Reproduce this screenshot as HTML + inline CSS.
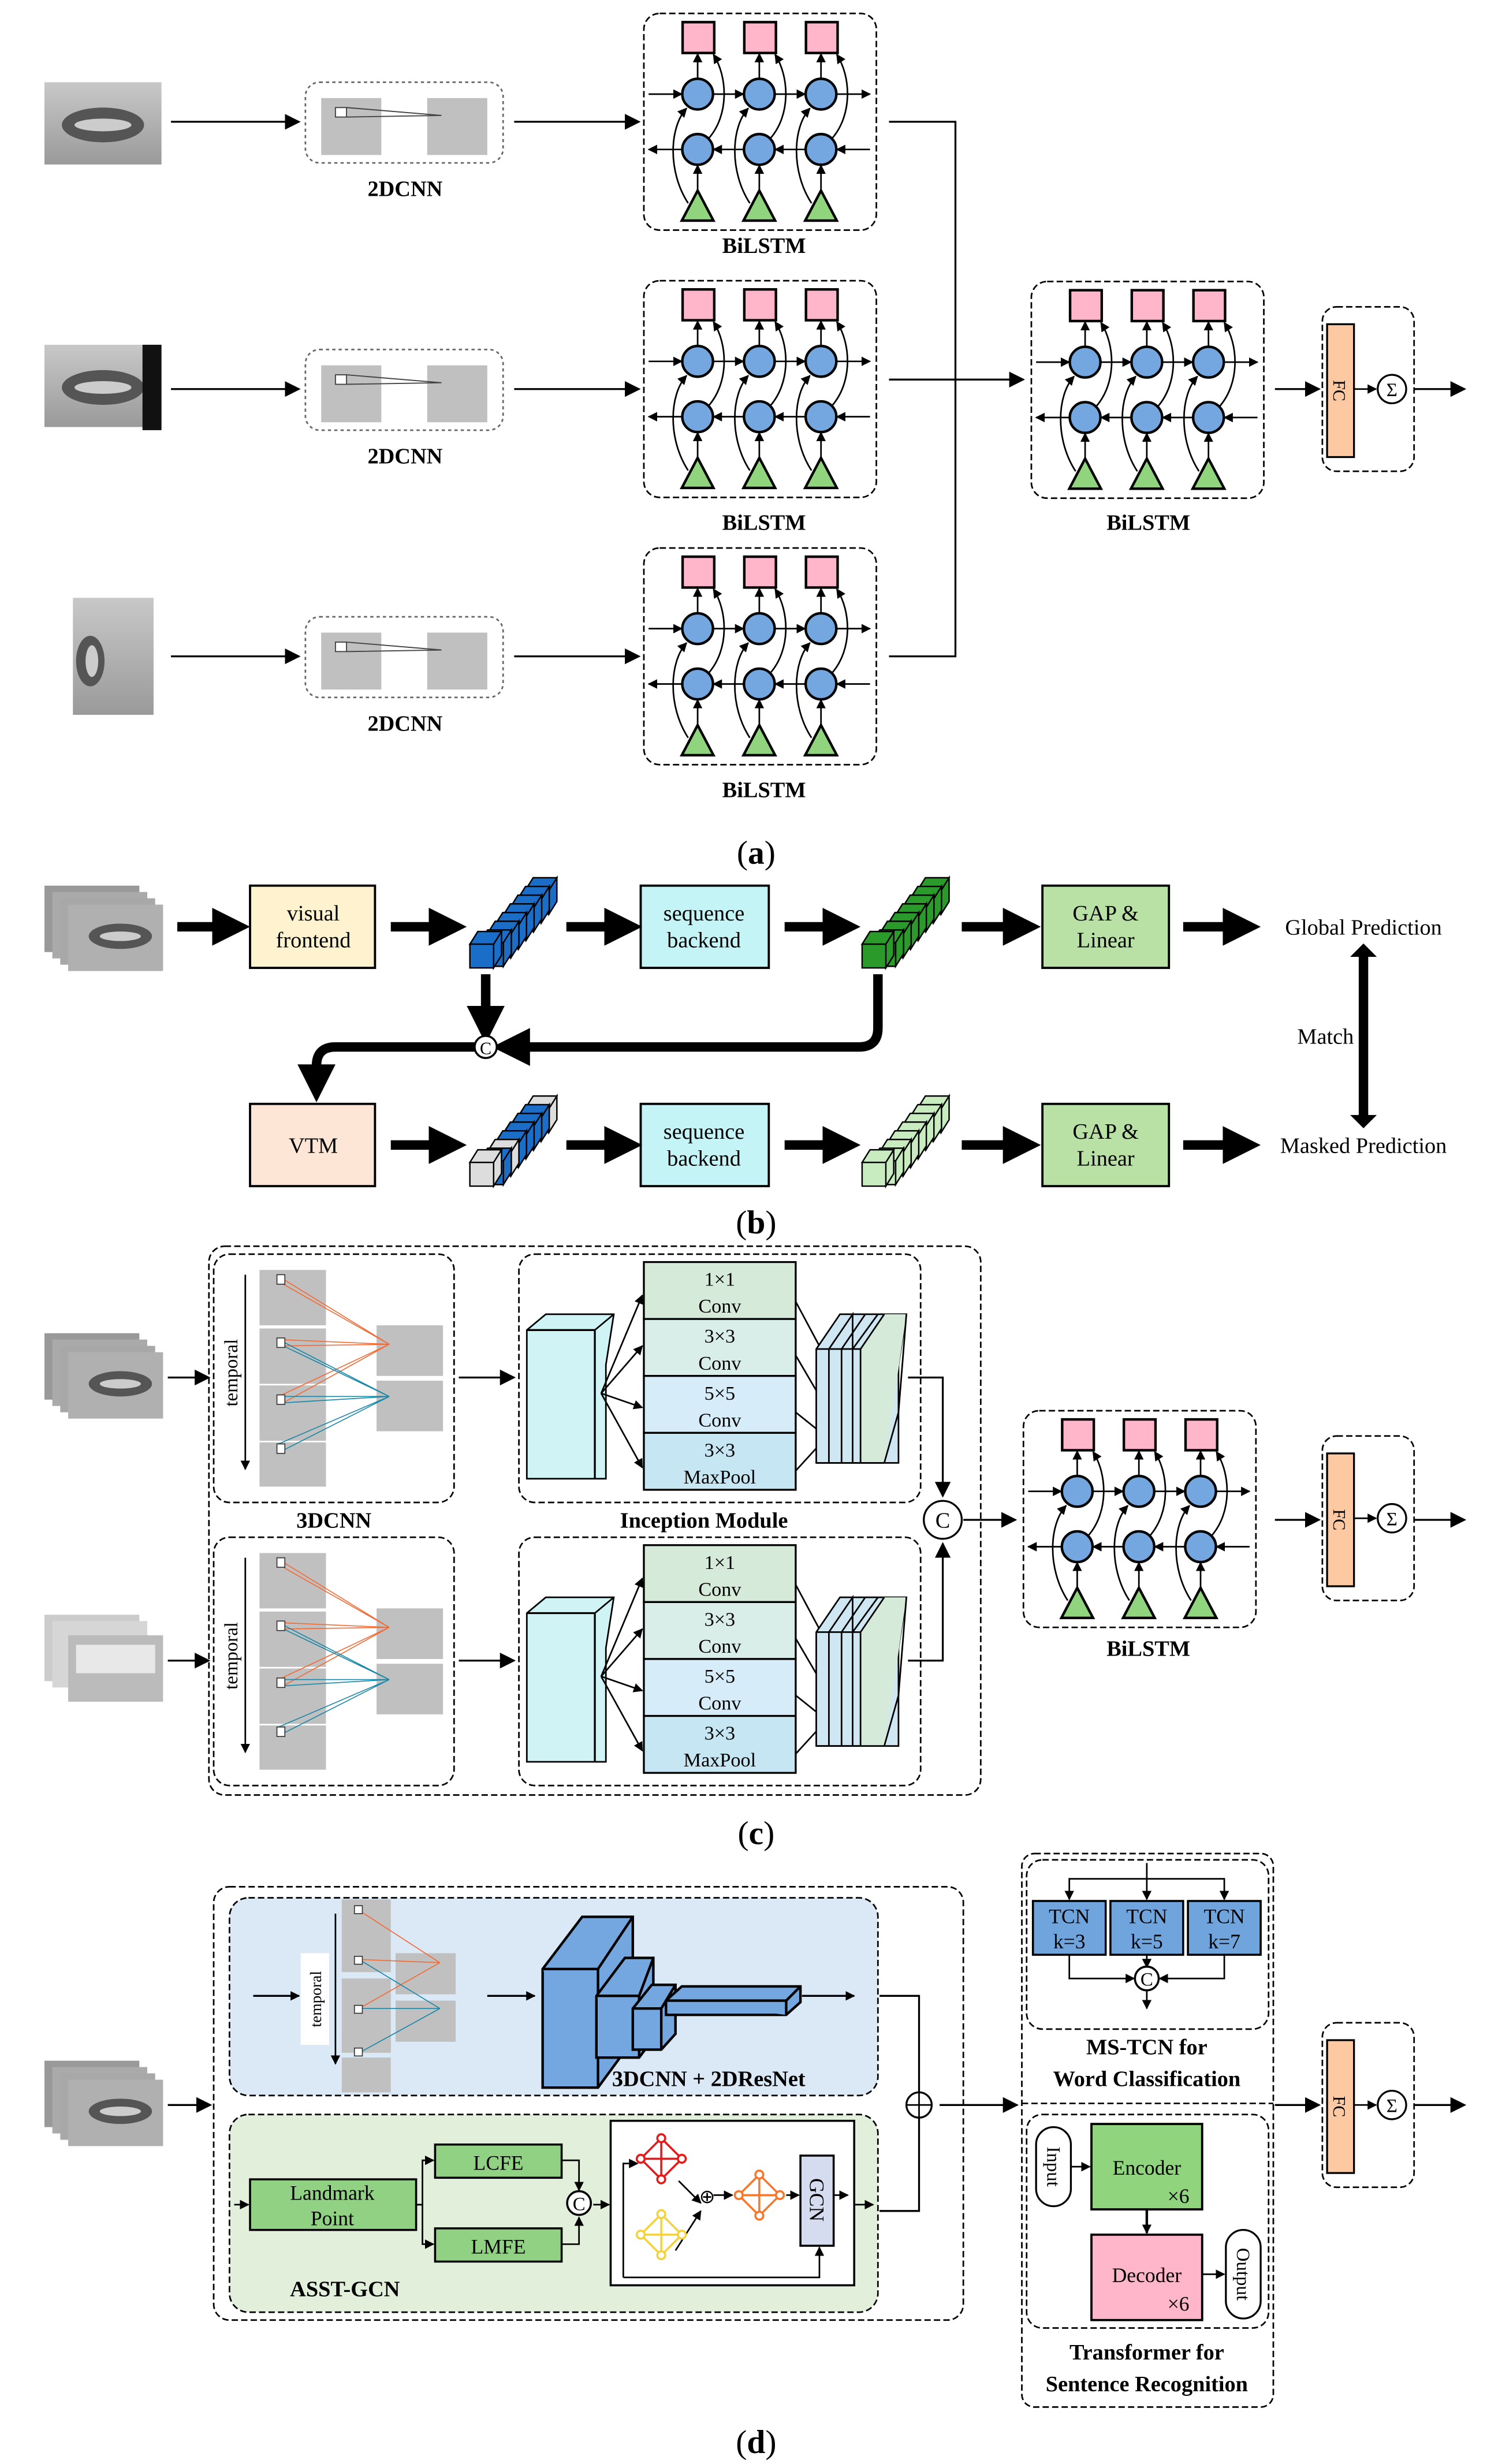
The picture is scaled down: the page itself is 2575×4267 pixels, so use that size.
<!DOCTYPE html>
<html><head><meta charset="utf-8"><style>html,body{margin:0;padding:0;background:#fff}svg{display:block}text{font-family:"Liberation Serif",serif}</style></head><body>
<svg width="2575" height="4267" viewBox="0 0 940 1558" xmlns="http://www.w3.org/2000/svg">
<defs>
<marker id="a" viewBox="0 0 10 10" refX="9" refY="5" markerWidth="6" markerHeight="6" markerUnits="userSpaceOnUse" orient="auto"><path d="M0,0L10,5L0,10z"/></marker>
<marker id="A" viewBox="0 0 10 10" refX="9" refY="5" markerWidth="10" markerHeight="10" markerUnits="userSpaceOnUse" orient="auto"><path d="M0,0L10,5L0,10z"/></marker>
<marker id="T" viewBox="0 0 10 10" refX="5" refY="5" markerWidth="4" markerHeight="4" orient="auto"><path d="M0,0L10,5L0,10z"/></marker>
<linearGradient id="mg" x1="0" y1="0" x2="0" y2="1"><stop offset="0" stop-color="#c8c8c8"/><stop offset="1" stop-color="#9a9a9a"/></linearGradient>
<g id="bl" stroke="#000">
 <rect x="0" y="0" width="147" height="137" rx="10" fill="#fff" stroke-dasharray="4,2" stroke-width="1"/>
 <g stroke-width="1" fill="none" marker-end="url(#a)">
  <line x1="3" y1="51" x2="24" y2="51"/><line x1="44" y1="51" x2="63" y2="51"/><line x1="83" y1="51" x2="102" y2="51"/><line x1="122" y1="51" x2="143" y2="51"/>
  <line x1="143" y1="86" x2="122" y2="86"/><line x1="102" y1="86" x2="83" y2="86"/><line x1="63" y1="86" x2="44" y2="86"/><line x1="24" y1="86" x2="3" y2="86"/>
  <line x1="34" y1="41" x2="34" y2="25.5"/><line x1="73" y1="41" x2="73" y2="25.5"/><line x1="112" y1="41" x2="112" y2="25.5"/>
  <line x1="34" y1="112" x2="34" y2="96"/><line x1="73" y1="112" x2="73" y2="96"/><line x1="112" y1="112" x2="112" y2="96"/>
  <path d="M28,120C15,100 16,72 27,60"/><path d="M67,120C54,100 55,72 66,60"/><path d="M106,120C93,100 94,72 105,60"/>
  <path d="M41,79C54,64 53,40 44,26"/><path d="M80,79C93,64 92,40 83,26"/><path d="M119,79C132,64 131,40 122,26"/>
 </g>
 <g stroke-width="1.6">
  <rect x="24.5" y="5.5" width="20" height="19.5" fill="#ffb6cb"/><rect x="63.5" y="5.5" width="20" height="19.5" fill="#ffb6cb"/><rect x="102.5" y="5.5" width="20" height="19.5" fill="#ffb6cb"/>
  <circle cx="34" cy="51" r="9.7" fill="#74a7e0"/><circle cx="73" cy="51" r="9.7" fill="#74a7e0"/><circle cx="112" cy="51" r="9.7" fill="#74a7e0"/>
  <circle cx="34" cy="86" r="9.7" fill="#74a7e0"/><circle cx="73" cy="86" r="9.7" fill="#74a7e0"/><circle cx="112" cy="86" r="9.7" fill="#74a7e0"/>
  <path d="M34,112L44,131H24z" fill="#90d47e"/><path d="M73,112L83,131H63z" fill="#90d47e"/><path d="M112,112L122,131H102z" fill="#90d47e"/>
 </g>
</g>
<g id="cnn">
 <rect x="0" y="0" width="125" height="51" rx="9" fill="#fff" stroke="#666" stroke-dasharray="2,2"/>
 <rect x="10" y="10" width="38" height="36" fill="#c0c0c0"/><rect x="77" y="10" width="38" height="36" fill="#c0c0c0"/>
 <rect x="19" y="16" width="7" height="6" fill="#fff" stroke="#444" stroke-width="0.7"/>
 <path d="M26,16L86,21L26,22" fill="none" stroke="#444" stroke-width="0.7"/>
</g>
<g id="mouth">
 <rect x="0" y="0" width="74" height="52" fill="url(#mg)"/>
 <ellipse cx="37" cy="27" rx="26" ry="11" fill="#555"/>
 <ellipse cx="37" cy="27" rx="18" ry="4" fill="#ccc"/>
</g>
<g id="mstack">
 <rect x="0" y="0" width="60" height="42" fill="#999"/><rect x="5" y="4" width="60" height="42" fill="#aaa"/><rect x="10" y="8" width="60" height="42" fill="#a8a8a8"/>
 <rect x="15" y="12" width="60" height="42" fill="#b0b0b0"/>
 <ellipse cx="48" cy="32" rx="20" ry="8" fill="#555"/><ellipse cx="48" cy="32" rx="13" ry="3" fill="#ccc"/>
</g>
<g id="fc">
 <rect x="0" y="0" width="58" height="104" rx="9" fill="#fff" stroke="#000" stroke-dasharray="4,2"/>
 <rect x="3" y="11" width="17" height="84" fill="#fcc9a3" stroke="#000" stroke-width="1.2"/>
 <text transform="translate(7,53) rotate(90)" font-size="11" text-anchor="middle">FC</text>
 <line x1="20" y1="52" x2="34" y2="52" stroke="#000" marker-end="url(#a)"/>
 <circle cx="44" cy="52" r="9" fill="#fff" stroke="#000" stroke-width="1.2"/>
 <text x="44" y="56.5" font-size="12" text-anchor="middle">Σ</text>
</g>
<g id="c3d">
 <rect x="0" y="0" width="152" height="157" rx="10" fill="#fff" stroke="#000" stroke-dasharray="4,2"/>
 <rect x="29" y="10" width="42" height="35" fill="#c0c0c0"/><rect x="29" y="47" width="42" height="35" fill="#c0c0c0"/>
 <rect x="29" y="83" width="42" height="35" fill="#c0c0c0"/><rect x="29" y="119" width="42" height="28" fill="#c0c0c0"/>
 <rect x="103" y="45" width="42" height="32" fill="#c0c0c0"/><rect x="103" y="80" width="42" height="32" fill="#c0c0c0"/>
 <g stroke="#f26a35" stroke-width="0.6" fill="none"><path d="M41,14L111,57M44,19L111,57M41,54L111,57M44,58L111,57M41,90L111,57M44,94L111,57"/></g>
 <g stroke="#1987a8" stroke-width="0.6" fill="none"><path d="M41,54L111,90M44,58L111,90M41,90L111,90M44,94L111,90M41,120L111,90M44,124L111,90"/></g>
 <g fill="#fff" stroke="#333" stroke-width="0.6"><rect x="40" y="13" width="5" height="6"/><rect x="40" y="53" width="5" height="6"/><rect x="40" y="89" width="5" height="6"/><rect x="40" y="120" width="5" height="6"/></g>
 <line x1="20" y1="13" x2="20" y2="136" stroke="#000" marker-end="url(#a)"/>
 <text transform="translate(15,75) rotate(-90)" font-size="12" text-anchor="middle">temporal</text>
</g>
<g id="inc">
 <rect x="0" y="0" width="254" height="157" rx="10" fill="#fff" stroke="#000" stroke-dasharray="4,2"/>
 <path d="M5,48L17,38H60L55,70V142H5z" fill="#d0f3f6" stroke="#000"/>
 <path d="M5,48H48V142" fill="none" stroke="#000" stroke-width="1.2"/><path d="M48,48L60,38" stroke="#000"/>
 <g stroke="#000" stroke-width="1.2">
 <rect x="79" y="5" width="96" height="36" fill="#d5ead8"/><rect x="79" y="41" width="96" height="36" fill="#daeee9"/>
 <rect x="79" y="77" width="96" height="36" fill="#d7ecf9"/><rect x="79" y="113" width="96" height="36" fill="#c5e6f2"/>
 </g>
 <g font-size="12.5" text-anchor="middle"><text x="127" y="20">1×1</text><text x="127" y="37">Conv</text><text x="127" y="56">3×3</text><text x="127" y="73">Conv</text><text x="127" y="92">5×5</text><text x="127" y="109">Conv</text><text x="127" y="128">3×3</text><text x="127" y="145">MaxPool</text></g>
 <g stroke="#000" fill="none" marker-end="url(#a)"><path d="M52,88L78,26"/><path d="M52,88L78,58"/><path d="M52,88L78,97"/><path d="M52,88L78,135"/><path d="M175,30L214,103"/><path d="M175,64L206,117"/><path d="M175,100L200,120"/><path d="M175,137L196,114"/></g>
 <path d="M188,60L203,38H245L240,70V132H188z" fill="#cfe6f3" stroke="#000"/>
 <path d="M216,132V60L231,38H245L236,100L231,132z" fill="#d5ead8" stroke="none"/>
 <g stroke="#000" fill="none"><path d="M188,60H216V132"/><path d="M196,60L211,38V60M204,60L219,38M211,60L227,38M216,60L231,38"/><path d="M196,60V132M204,60V132M211,60V132"/><path d="M245,38L240,100L231,132"/><path d="M188,132H231"/></g>
</g>
<g id="cube1"><path d="M0,0h15v15h-15z M0,0l5,-8h15l-5,8z M15,0l5,-8v15l-5,8z"/></g>
</defs>
<rect width="940" height="1558" fill="#fff"/>

<!-- ===== (a) ===== -->
<use href="#mouth" x="28" y="52"/>
<use href="#mouth" x="28" y="218"/>
<g><rect x="46" y="378" width="51" height="74" fill="url(#mg)"/><ellipse cx="57" cy="418" rx="9" ry="16" fill="#555"/><ellipse cx="58" cy="418" rx="4" ry="10" fill="#ccc"/></g>
<rect x="90" y="218" width="12" height="54" fill="#111"/>
<use href="#cnn" x="193" y="52"/><use href="#cnn" x="193" y="221"/><use href="#cnn" x="193" y="390"/>
<g font-size="14" font-weight="bold" text-anchor="middle"><text x="256" y="124">2DCNN</text><text x="256" y="293">2DCNN</text><text x="256" y="462">2DCNN</text></g>
<g stroke="#000" stroke-width="1.2" marker-end="url(#A)">
<line x1="108" y1="77" x2="189" y2="77"/><line x1="108" y1="246" x2="189" y2="246"/><line x1="108" y1="415" x2="189" y2="415"/>
<line x1="325" y1="77" x2="404" y2="77"/><line x1="325" y1="246" x2="404" y2="246"/><line x1="325" y1="415" x2="404" y2="415"/>
<line x1="562" y1="240" x2="647" y2="240"/>
<line x1="806" y1="246" x2="834" y2="246"/><line x1="894" y1="246" x2="926" y2="246"/>
</g>
<path d="M562,77H604V415H562" fill="none" stroke="#000" stroke-width="1.2"/>
<use href="#bl" x="407" y="8.5"/><use href="#bl" x="407" y="177.5"/><use href="#bl" x="407" y="346.5"/><use href="#bl" x="652" y="178"/>
<g font-size="14" font-weight="bold" text-anchor="middle"><text x="483" y="160">BiLSTM</text><text x="483" y="335">BiLSTM</text><text x="483" y="504">BiLSTM</text><text x="726" y="335">BiLSTM</text></g>
<use href="#fc" x="836" y="194"/>
<text x="478" y="546" font-size="21" text-anchor="middle">(<tspan font-weight="bold">a</tspan>)</text>

<!-- ===== (b) ===== -->
<use href="#mstack" x="28" y="560"/>
<g stroke="#000" stroke-width="1.4">
<rect x="158" y="560" width="79" height="52" fill="#fff3cf"/><rect x="405" y="560" width="81" height="52" fill="#c5f4f7"/><rect x="659" y="560" width="80" height="52" fill="#b9e1a5"/>
<rect x="158" y="698" width="79" height="52" fill="#fde6d6"/><rect x="405" y="698" width="81" height="52" fill="#c5f4f7"/><rect x="659" y="698" width="80" height="52" fill="#b9e1a5"/>
</g>
<g font-size="14" text-anchor="middle"><text x="198" y="582">visual</text><text x="198" y="599">frontend</text>
<text x="445" y="582">sequence</text><text x="445" y="599">backend</text><text x="699" y="582">GAP &amp;</text><text x="699" y="599">Linear</text>
<text x="198" y="729">VTM</text><text x="445" y="720">sequence</text><text x="445" y="737">backend</text><text x="699" y="720">GAP &amp;</text><text x="699" y="737">Linear</text>
<text x="862" y="591">Global Prediction</text><text x="862" y="729">Masked Prediction</text><text x="838" y="660">Match</text></g>
<g stroke="#000" stroke-width="6" marker-end="url(#T)">
<line x1="112" y1="586" x2="146" y2="586"/><line x1="247" y1="586" x2="283" y2="586"/><line x1="358" y1="586" x2="394" y2="586"/><line x1="496" y1="586" x2="532" y2="586"/><line x1="608" y1="586" x2="646" y2="586"/><line x1="748" y1="586" x2="785" y2="586"/>
<line x1="247" y1="724" x2="283" y2="724"/><line x1="358" y1="724" x2="394" y2="724"/><line x1="496" y1="724" x2="532" y2="724"/><line x1="608" y1="724" x2="646" y2="724"/><line x1="748" y1="724" x2="785" y2="724"/>
<line x1="307" y1="616" x2="307" y2="648"/>
<path d="M555,616V650Q555,662 543,662H323" fill="none"/>
<path d="M300,662H212Q200,662 200,674V685" fill="none"/>
</g>
<g stroke="#000" stroke-width="6"><line x1="862" y1="604" x2="862" y2="706"/></g>
<path d="M856,604L862,598L868,604z M856,706L862,712L868,706z" stroke="#000" stroke-width="2"/>
<circle cx="307" cy="662" r="7" fill="#fff" stroke="#000" stroke-width="1.3"/><text x="307" y="666.5" font-size="11" text-anchor="middle">C</text>
<g stroke="#000" stroke-width="0.9">
<g fill="#1a6ec8"><use href="#cube1" x="332" y="563"/><use href="#cube1" x="327.2" y="568.5"/><use href="#cube1" x="322.4" y="574"/><use href="#cube1" x="317.6" y="579.5"/><use href="#cube1" x="312.8" y="585"/><use href="#cube1" x="308" y="590.5"/><use href="#cube1" x="303.2" y="596"/><use href="#cube1" x="297" y="597"/></g>
<g fill="#2a9a2a"><use href="#cube1" x="580" y="563"/><use href="#cube1" x="575.2" y="568.5"/><use href="#cube1" x="570.4" y="574"/><use href="#cube1" x="565.6" y="579.5"/><use href="#cube1" x="560.8" y="585"/><use href="#cube1" x="556" y="590.5"/><use href="#cube1" x="551.2" y="596"/><use href="#cube1" x="545" y="597"/></g>
<g><use href="#cube1" x="332" y="701" fill="#ddd"/><use href="#cube1" x="327.2" y="706.5" fill="#1a6ec8"/><use href="#cube1" x="322.4" y="712" fill="#1a6ec8"/><use href="#cube1" x="317.6" y="717.5" fill="#1a6ec8"/><use href="#cube1" x="312.8" y="723" fill="#1a6ec8"/><use href="#cube1" x="308" y="728.5" fill="#ddd"/><use href="#cube1" x="303.2" y="734" fill="#1a6ec8"/><use href="#cube1" x="297" y="735" fill="#ddd"/></g>
<g fill="#c8ecc0"><use href="#cube1" x="580" y="701"/><use href="#cube1" x="575.2" y="706.5"/><use href="#cube1" x="570.4" y="712"/><use href="#cube1" x="565.6" y="717.5"/><use href="#cube1" x="560.8" y="723"/><use href="#cube1" x="556" y="728.5"/><use href="#cube1" x="551.2" y="734"/><use href="#cube1" x="545" y="735"/></g>
</g>
<text x="478" y="780" font-size="21" text-anchor="middle">(<tspan font-weight="bold">b</tspan>)</text>

<!-- ===== (c) ===== -->
<rect x="132" y="788" width="488" height="347" rx="10" fill="none" stroke="#000" stroke-dasharray="4,2"/>
<use href="#mstack" x="28" y="843"/>
<g><rect x="28" y="1021" width="60" height="42" fill="#ccc"/><rect x="33" y="1025" width="60" height="42" fill="#d6d6d6"/><rect x="43" y="1034" width="60" height="42" fill="#bbb"/><rect x="48" y="1040" width="50" height="18" fill="#e8e8e8"/></g>
<use href="#c3d" x="135" y="793"/><use href="#c3d" x="135" y="972"/>
<use href="#inc" x="328" y="793"/><use href="#inc" x="328" y="972"/>
<g font-size="14" font-weight="bold" text-anchor="middle"><text x="211" y="966">3DCNN</text><text x="445" y="966">Inception Module</text><text x="726" y="1047">BiLSTM</text></g>
<g stroke="#000" stroke-width="1.2" fill="none" marker-end="url(#A)">
<line x1="106" y1="871" x2="132" y2="871"/><line x1="106" y1="1050" x2="132" y2="1050"/>
<line x1="290" y1="871" x2="325" y2="871"/><line x1="290" y1="1050" x2="325" y2="1050"/>
<path d="M574,871H596V946"/><path d="M574,1050H596V976"/>
<line x1="609" y1="961" x2="642" y2="961"/>
<line x1="806" y1="961" x2="834" y2="961"/><line x1="894" y1="961" x2="926" y2="961"/>
</g>
<circle cx="596" cy="961" r="12" fill="#fff" stroke="#000" stroke-width="1.2"/><text x="596" y="966" font-size="14" text-anchor="middle">C</text>
<use href="#bl" x="647" y="892"/>
<use href="#fc" x="836" y="908"/>
<text x="478" y="1166" font-size="21" text-anchor="middle">(<tspan font-weight="bold">c</tspan>)</text>

<!-- ===== (d) ===== -->
<rect x="135" y="1193" width="474" height="274" rx="10" fill="none" stroke="#000" stroke-dasharray="4,2"/>
<rect x="145" y="1200" width="410" height="125" rx="12" fill="#dae9f5" stroke="#000" stroke-dasharray="4,2"/>
<rect x="145" y="1337" width="410" height="125" rx="12" fill="#e1efdb" stroke="#000" stroke-dasharray="4,2"/>
<use href="#mstack" x="28" y="1303"/>
<g stroke="#000" stroke-width="1.2" fill="none" marker-end="url(#A)"><line x1="106" y1="1331" x2="133" y2="1331"/><line x1="594" y1="1331" x2="643" y2="1331"/><line x1="806" y1="1331" x2="834" y2="1331"/><line x1="894" y1="1331" x2="926" y2="1331"/></g>
<rect x="190" y="1235" width="18" height="58" fill="#fff"/>
<text transform="translate(203,1264) rotate(-90)" font-size="10" text-anchor="middle">temporal</text>
<line x1="212" y1="1210" x2="212" y2="1305" stroke="#000" marker-end="url(#a)"/>
<rect x="216" y="1201" width="31" height="46" fill="#c0c0c0"/><rect x="216" y="1251" width="31" height="46" fill="#c0c0c0"/><rect x="216" y="1301" width="31" height="22" fill="#c0c0c0"/><rect x="216" y="1286" width="31" height="12" fill="#c0c0c0"/>
<rect x="250" y="1235" width="38" height="26" fill="#c0c0c0"/><rect x="250" y="1265" width="38" height="26" fill="#c0c0c0"/>
<g stroke="#f26a35" stroke-width="0.6" fill="none"><path d="M227,1208L278,1241M227,1239L278,1241M227,1270L278,1241"/></g>
<g stroke="#1987a8" stroke-width="0.6" fill="none"><path d="M227,1239L278,1270M227,1270L278,1270M227,1298L278,1270"/></g>
<g fill="#fff" stroke="#333" stroke-width="0.6"><rect x="224" y="1205" width="5" height="5"/><rect x="224" y="1237" width="5" height="5"/><rect x="224" y="1268" width="5" height="5"/><rect x="224" y="1295" width="5" height="5"/></g>
<g stroke="#000" stroke-width="1.2" fill="none" marker-end="url(#a)"><line x1="160" y1="1262" x2="189" y2="1262"/><line x1="308" y1="1262" x2="338" y2="1262"/><line x1="507" y1="1262" x2="540" y2="1262"/></g>
<g stroke="#000" stroke-width="1.6" fill="#74a7e0">
<path d="M343,1245L368,1212H400V1290L378,1320H343z"/><path d="M343,1245H378V1320M378,1245L400,1212"/>
<path d="M377,1262L395,1238H413V1289L404,1301H377z"/><path d="M377,1262H404V1301M404,1262L413,1238"/>
<path d="M400,1270L412,1255H427V1286L418,1296H400z"/><path d="M400,1270H418V1296M418,1270L427,1255"/>
<path d="M421,1265L431,1256H506V1266L497,1274H421z"/><path d="M421,1265H497V1274M497,1265L506,1256"/>
</g>
<text x="448" y="1319" font-size="14" font-weight="bold" text-anchor="middle">3DCNN + 2DResNet</text>
<g stroke="#000" stroke-width="1.3">
<rect x="158" y="1378" width="105" height="32" fill="#90d184"/><rect x="275" y="1356" width="80" height="21" fill="#90d184"/><rect x="275" y="1409" width="80" height="21" fill="#90d184"/>
<rect x="386" y="1341" width="154" height="104" fill="#fff"/><rect x="506" y="1363" width="21" height="57" fill="#d6dcf0"/>
</g>
<g font-size="13" text-anchor="middle"><text x="210" y="1391">Landmark</text><text x="210" y="1407">Point</text><text x="315" y="1372">LCFE</text><text x="315" y="1425">LMFE</text></g>
<text transform="translate(512,1391) rotate(90)" font-size="13" text-anchor="middle">GCN</text>
<g stroke="#000" fill="none" marker-end="url(#a)"><line x1="148" y1="1394" x2="157" y2="1394"/><path d="M263,1394H267V1366H274"/><path d="M263,1394H267V1419H274"/><path d="M355,1366H366V1385"/><path d="M355,1419H366V1402"/><line x1="375" y1="1394" x2="385" y2="1394"/><path d="M394,1440V1368H403"/><path d="M394,1440H518V1421"/><path d="M429,1379L443,1393"/><path d="M427,1423L443,1398"/><line x1="451" y1="1388" x2="463" y2="1388"/><line x1="497" y1="1388" x2="505" y2="1388"/><line x1="527" y1="1388" x2="536" y2="1388"/><line x1="540" y1="1394" x2="552" y2="1394"/></g>
<circle cx="366" cy="1393" r="7.5" fill="#fff" stroke="#000" stroke-width="1.3"/><text x="366" y="1397.5" font-size="12" text-anchor="middle">C</text>
<text x="447" y="1393" font-size="12" text-anchor="middle">⊕</text>
<g fill="none" stroke-width="1.3">
<g stroke="#e81818"><path d="M418,1352L431,1365L418,1378L405,1365Z M418,1352V1378 M405,1365H431"/><circle cx="418" cy="1352" r="2.5" fill="#fff"/><circle cx="431" cy="1365" r="2.5" fill="#fff"/><circle cx="418" cy="1378" r="2.5" fill="#fff"/><circle cx="405" cy="1365" r="2.5" fill="#fff"/></g>
<g stroke="#f5d23c"><path d="M418,1400L431,1413L418,1426L405,1413Z M418,1400V1426 M405,1413H431"/><circle cx="418" cy="1400" r="2.5" fill="#fff"/><circle cx="431" cy="1413" r="2.5" fill="#fff"/><circle cx="418" cy="1426" r="2.5" fill="#fff"/><circle cx="405" cy="1413" r="2.5" fill="#fff"/></g>
<g stroke="#f7782c"><path d="M480,1375L493,1388L480,1401L467,1388Z M480,1375V1401 M467,1388H493"/><circle cx="480" cy="1375" r="2.5" fill="#fff"/><circle cx="493" cy="1388" r="2.5" fill="#fff"/><circle cx="480" cy="1401" r="2.5" fill="#fff"/><circle cx="467" cy="1388" r="2.5" fill="#fff"/></g>
</g>
<text x="218" y="1452" font-size="14" font-weight="bold" text-anchor="middle">ASST-GCN</text>
<path d="M556,1262H581V1398H556" fill="none" stroke="#000" stroke-width="1.2"/>
<circle cx="581" cy="1331" r="8" fill="#fff" stroke="#000" stroke-width="1.2"/><path d="M573,1331H589M581,1323V1339" stroke="#000"/>
<rect x="646" y="1172" width="159" height="350" rx="8" fill="none" stroke="#000" stroke-dasharray="4,2"/>
<rect x="649" y="1176" width="153" height="107" rx="10" fill="none" stroke="#000" stroke-dasharray="4,2"/>
<line x1="646" y1="1330" x2="805" y2="1330" stroke="#000" stroke-dasharray="4,2"/>
<rect x="649" y="1337" width="153" height="135" rx="10" fill="none" stroke="#000" stroke-dasharray="4,2"/>
<g stroke="#000" stroke-width="1.3" fill="#6fa5dc"><rect x="653" y="1202" width="46" height="34"/><rect x="702" y="1202" width="46" height="34"/><rect x="751" y="1202" width="46" height="34"/></g>
<g font-size="13" text-anchor="middle"><text x="676" y="1216">TCN</text><text x="676" y="1232">k=3</text><text x="725" y="1216">TCN</text><text x="725" y="1232">k=5</text><text x="774" y="1216">TCN</text><text x="774" y="1232">k=7</text></g>
<g stroke="#000" fill="none" marker-end="url(#a)"><line x1="725" y1="1178" x2="725" y2="1201"/><path d="M725,1188H676V1201"/><path d="M725,1188H774V1201"/><line x1="725" y1="1236" x2="725" y2="1244"/><path d="M676,1236V1251H717"/><path d="M774,1236V1251H733"/><line x1="725" y1="1259" x2="725" y2="1270"/></g>
<circle cx="725" cy="1251" r="7.5" fill="#fff" stroke="#000" stroke-width="1.3"/><text x="725" y="1255.5" font-size="12" text-anchor="middle">C</text>
<g font-size="14" font-weight="bold" text-anchor="middle"><text x="725" y="1299">MS-TCN for</text><text x="725" y="1319">Word Classification</text><text x="725" y="1492">Transformer for</text><text x="725" y="1512">Sentence Recognition</text></g>
<rect x="655" y="1345" width="22" height="50" rx="11" fill="#fff" stroke="#000" stroke-width="1.2"/>
<text transform="translate(662,1370) rotate(90)" font-size="12" text-anchor="middle">Input</text>
<rect x="775" y="1410" width="22" height="56" rx="11" fill="#fff" stroke="#000" stroke-width="1.2"/>
<text transform="translate(782,1438) rotate(90)" font-size="12" text-anchor="middle">Output</text>
<g stroke="#000" stroke-width="1.4"><rect x="690" y="1343" width="70" height="54" fill="#90d47e"/><rect x="690" y="1413" width="70" height="54" fill="#ffb6cb"/></g>
<g font-size="13" text-anchor="middle"><text x="725" y="1375">Encoder</text><text x="745" y="1393">×6</text><text x="725" y="1443">Decoder</text><text x="745" y="1461">×6</text></g>
<g stroke="#000" fill="none" marker-end="url(#a)"><line x1="677" y1="1370" x2="689" y2="1370"/><line x1="760" y1="1438" x2="774" y2="1438"/></g>
<line x1="725" y1="1397" x2="725" y2="1412" stroke="#000" stroke-width="1.6" marker-end="url(#a)"/>
<use href="#fc" x="836" y="1279"/>
<text x="478" y="1551" font-size="21" text-anchor="middle">(<tspan font-weight="bold">d</tspan>)</text>
</svg>
</body></html>
